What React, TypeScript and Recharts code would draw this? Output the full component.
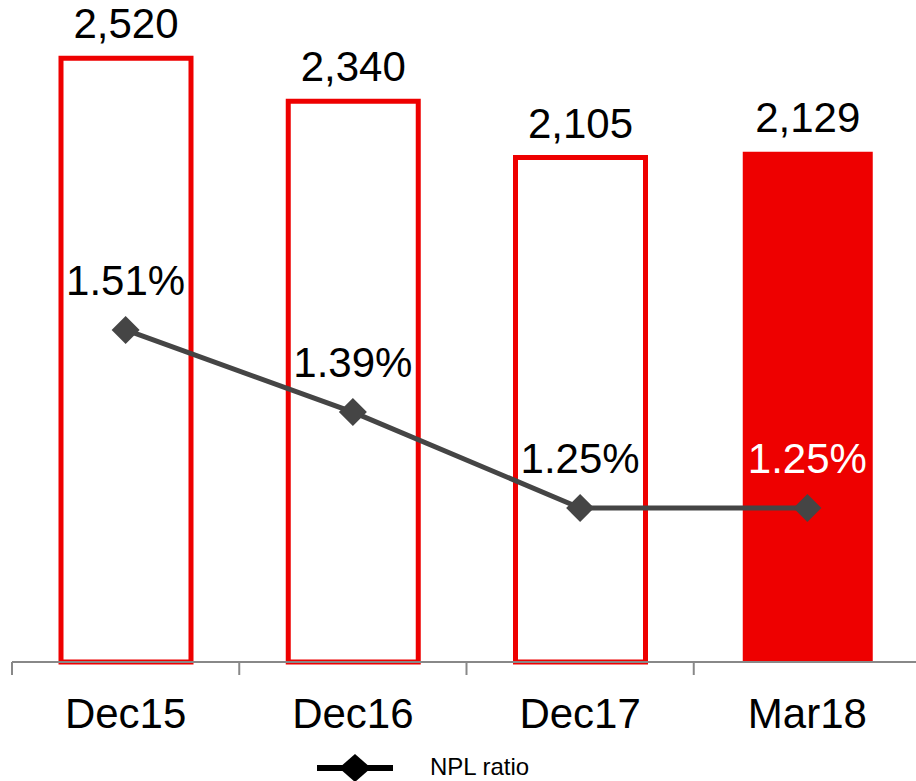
import { ComposedChart, Bar, Line, XAxis, YAxis, Cell, LabelList, Legend } from 'recharts';

const categories = ['Dec15', 'Dec16', 'Dec17', 'Mar18'];
const nplAmounts = [2520, 2340, 2105, 2129];
const nplRatios = [1.51, 1.39, 1.25, 1.25];

const RED = '#EE0000';
const LINE = '#454545';
const FONT = '"Liberation Sans", Arial, sans-serif';

const data = categories.map((name, i) => ({ name, amount: nplAmounts[i], ratio: nplRatios[i] }));
const lastIdx = categories.length - 1;

function CategoryTick(props: any) {
  const { x, y, payload, index } = props;
  const half = payload?.offset ?? 0;
  return (
    <g>
      <line x1={x - half} y1={y} x2={x - half} y2={y + 13} stroke="#888" strokeWidth={2} />
      {index === lastIdx && (
        <line x1={x + half} y1={y} x2={x + half} y2={y + 13} stroke="#888" strokeWidth={2} />
      )}
      <text x={x} y={y + 66} textAnchor="middle" fontSize={42} fill="#000" fontFamily={FONT}>
        {payload.value}
      </text>
    </g>
  );
}

function AmountLabel(props: any) {
  const { x, y, width, value } = props;
  return (
    <text x={x + width / 2} y={y - 20} textAnchor="middle" fontSize={42} fill="#000" fontFamily={FONT}>
      {Number(value).toLocaleString('en-US')}
    </text>
  );
}

function RatioLabel(props: any) {
  const { x, y, value, index } = props;
  return (
    <text x={x} y={y - 35} textAnchor="middle" fontSize={42} fill={index === lastIdx ? '#fff' : '#000'} fontFamily={FONT}>
      {Number(value).toFixed(2)}%
    </text>
  );
}

function Diamond(props: any) {
  const { cx, cy } = props;
  if (cx == null || cy == null) return null;
  const r = 14;
  return <polygon points={`${cx},${cy - r} ${cx + r},${cy} ${cx},${cy + r} ${cx - r},${cy}`} fill={LINE} />;
}

function LegendContent() {
  return (
    <div style={{ height: 36, position: 'relative' }}>
      <svg width={916} height={36} style={{ display: 'block' }}>
        <line x1={317} y1={23} x2={393} y2={23} stroke="#000" strokeWidth={6} />
        <polygon points="355,9 371,23 355,37 339,23" fill="#000" />
        <text x={430} y={30} fontSize={24} fill="#000" fontFamily={FONT}>NPL ratio</text>
      </svg>
    </div>
  );
}

export default function App() {
  return (
    <div style={{ position: 'absolute', left: 0, top: 0, width: 916, height: 781, overflow: 'hidden', background: '#fff' }}>
      <ComposedChart width={930} height={781} data={data} margin={{ top: 15, right: 9, left: 12, bottom: 0 }}>
        <XAxis
          dataKey="name"
          xAxisId="cat"
          height={83}
          axisLine={{ stroke: '#888', strokeWidth: 2 }}
          tickLine={false}
          tickSize={0}
          tickMargin={0}
          tick={<CategoryTick />}
          interval={0}
        />
        <YAxis yAxisId="amount" hide domain={[0, 2700]} />
        <YAxis yAxisId="ratio" hide domain={[1.025, 1.97]} />
        <Legend verticalAlign="bottom" height={36} content={<LegendContent />} wrapperStyle={{ left: 0, width: 916 }} />
        <Bar dataKey="amount" xAxisId="cat" yAxisId="amount" barSize={130} isAnimationActive={false}>
          {data.map((d, i) => (
            <Cell
              key={d.name}
              fill={i === lastIdx ? RED : '#fff'}
              stroke={i === lastIdx ? 'none' : RED}
              strokeWidth={5}
            />
          ))}
          <LabelList dataKey="amount" content={<AmountLabel />} />
        </Bar>
        <Line
          dataKey="ratio"
          xAxisId="cat"
          yAxisId="ratio"
          type="linear"
          stroke={LINE}
          strokeWidth={5}
          dot={<Diamond />}
          activeDot={false}
          legendType="diamond"
          name="NPL ratio"
          isAnimationActive={false}
        >
          <LabelList dataKey="ratio" content={<RatioLabel />} />
        </Line>
      </ComposedChart>
    </div>
  );
}
